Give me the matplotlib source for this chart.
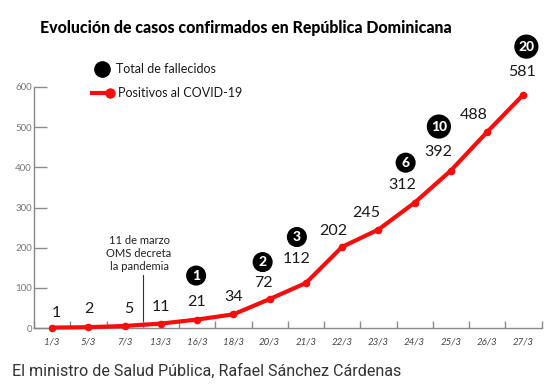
import matplotlib
matplotlib.use('Agg')
import matplotlib.pyplot as plt
from matplotlib.lines import Line2D
import numpy as np

# data
fechas = ['1/3', '5/3', '7/3', '13/3', '16/3', '18/3', '20/3', '21/3',
          '22/3', '23/3', '24/3', '25/3', '26/3', '27/3']
positivos = [1, 2, 5, 11, 21, 34, 72, 112, 202, 245, 312, 392, 488, 581]
fallecidos_fecha = ['16/3', '20/3', '21/3', '24/3', '25/3', '27/3']
fallecidos = [1, 2, 3, 6, 10, 20]
yticks = [0, 100, 200, 300, 400, 500, 600]

# label offsets in pixels (dx, dy) from each point
lab_off = [(4, 15), (1, 18), (4, 17), (0, 17), (-1, 18), (0, 17), (-6, 16),
           (-9, 24), (-9, 16), (-12, 17), (-12, 18), (-13, 19), (-13, 17), (-1, 23)]
dead_off = [(-1, 44), (-7, 37), (-9, 46), (-9, 40), (-12, 44), (3, 48)]

W, H = 556, 386
fig = plt.figure(figsize=(W/100, H/100), dpi=100)
fig.patch.set_facecolor('white')

ax = fig.add_axes([34/W, 58/H, 507.5/W, 241/H])
x = np.arange(len(fechas))

ax.plot(x, positivos, color='#f80d0d', lw=3.0, marker='o', markersize=4.5,
        solid_capstyle='round', zorder=3, clip_on=False)

for i, v in enumerate(positivos):
    dx, dy = lab_off[i]
    ax.annotate(str(v), (i, v), xytext=(dx, dy), textcoords='offset pixels',
                ha='center', va='center', fontsize=11.5, family='Lato',
                color='#1a1a1a', annotation_clip=False)

for f, d, (dx, dy) in zip(fallecidos_fecha, fallecidos, dead_off):
    i = fechas.index(f)
    ax.annotate(str(d), (i, positivos[i]), xytext=(dx, dy), textcoords='offset pixels',
                ha='center', va='center', fontsize=10, family='Lato', weight='black',
                color='white', annotation_clip=False,
                bbox=dict(boxstyle='circle,pad=0.24', fc='black', ec='black'))

# OMS marker between 7/3 and 13/3
ax.plot([2.5, 2.5], [0, 132], color='#333333', lw=0.8, zorder=1)
ax.text(2.4, 186, '11 de marzo\nOMS decreta\nla pandemia', ha='center', va='center',
        fontsize=8, family='Lato', color='#222222', linespacing=1.25)

ax.set_xlim(-0.5, 13.5)
ax.set_ylim(0, 600)
for s in ['top', 'right']:
    ax.spines[s].set_visible(False)
for s in ['left', 'bottom']:
    ax.spines[s].set_color('#8a8a8a')
    ax.spines[s].set_linewidth(1.0)

ax.set_yticks(yticks)
ax.set_yticklabels([str(t) for t in yticks], fontsize=7, family='Lato', color='#777777')
ax.tick_params(axis='y', direction='in', length=9, width=1.0, color='#8a8a8a', pad=1.5)

ax.set_xticks(x)
ax.set_xticklabels(fechas, fontsize=7, family='Lato', style='italic', color='#444444')
ax.set_xticks(np.arange(-0.5, 14, 1), minor=True)
ax.tick_params(axis='x', which='major', length=0, pad=7)
ax.tick_params(axis='x', which='minor', direction='in', length=5, width=1.0, color='#8a8a8a')

# title
fig.text(40/W, 1 - 28/H, 'Evolución de casos confirmados en República Dominicana',
         ha='left', va='center', fontsize=11.4, family='Lato', weight='black', color='black')

# legend
fig.add_artist(Line2D([102/W], [1 - 69/H], marker='o', markersize=11, color='black',
                      transform=fig.transFigure))
fig.text(116/W, 1 - 69/H, 'Total de fallecidos', ha='left', va='center',
         fontsize=9, family='Lato', color='#1a1a1a')
fig.add_artist(Line2D([92/W, 110/W], [1 - 93/H, 1 - 93/H], color='#f80d0d', lw=3,
                      transform=fig.transFigure))
fig.add_artist(Line2D([110/W], [1 - 93/H], marker='o', markersize=6.5, color='#f80d0d',
                      transform=fig.transFigure))
fig.text(118/W, 1 - 93/H, 'Positivos al COVID-19', ha='left', va='center',
         fontsize=9, family='Lato', color='#1a1a1a')

# caption
fig.text(12/W, 1 - 371/H, 'El ministro de Salud Pública, Rafael Sánchez Cárdenas',
         ha='left', va='center', fontsize=11.6, family='Roboto', color='#333333')

fig.savefig('out.png', dpi=100, facecolor='white')
